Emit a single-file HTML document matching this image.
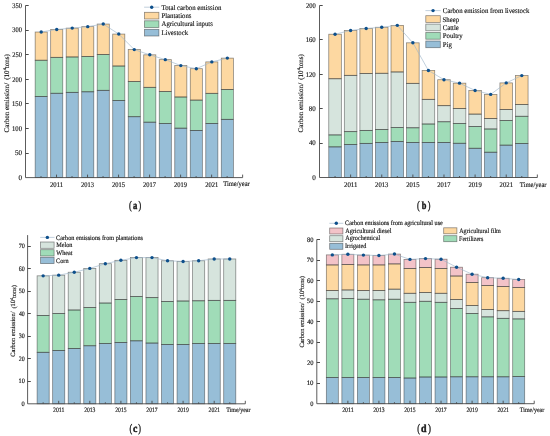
<!DOCTYPE html>
<html><head><meta charset="utf-8"><title>Carbon emission charts</title>
<style>
html,body{margin:0;padding:0;background:#fff;}
body{width:550px;height:436px;overflow:hidden;}
svg{display:block;font-family:"Liberation Serif", serif;will-change:transform;text-rendering:geometricPrecision;}
svg text{fill:#111;stroke:#1a1a1a;stroke-width:0.15px;}
</style></head><body>
<svg width="550" height="436" viewBox="0 0 550 436">
<rect width="550" height="436" fill="#fff"/>
<g>
<rect x="35.16" y="96.47" width="12.1" height="81.13" fill="#97bed7"/>
<rect x="35.16" y="60.23" width="12.1" height="36.24" fill="#a0dcb8"/>
<rect x="35.16" y="32.01" width="12.1" height="28.22" fill="#fdd8a1"/>
<rect x="50.67" y="93.27" width="12.1" height="84.33" fill="#97bed7"/>
<rect x="50.67" y="57.33" width="12.1" height="35.94" fill="#a0dcb8"/>
<rect x="50.67" y="29.45" width="12.1" height="27.88" fill="#fdd8a1"/>
<rect x="66.18" y="92.34" width="12.1" height="85.26" fill="#97bed7"/>
<rect x="66.18" y="56.99" width="12.1" height="35.35" fill="#a0dcb8"/>
<rect x="66.18" y="28.12" width="12.1" height="28.86" fill="#fdd8a1"/>
<rect x="81.69" y="91.8" width="12.1" height="85.8" fill="#97bed7"/>
<rect x="81.69" y="56.4" width="12.1" height="35.4" fill="#a0dcb8"/>
<rect x="81.69" y="26.65" width="12.1" height="29.75" fill="#fdd8a1"/>
<rect x="97.2" y="90.32" width="12.1" height="87.28" fill="#97bed7"/>
<rect x="97.2" y="54.48" width="12.1" height="35.84" fill="#a0dcb8"/>
<rect x="97.2" y="24.04" width="12.1" height="30.44" fill="#fdd8a1"/>
<rect x="112.71" y="100.6" width="12.1" height="77" fill="#97bed7"/>
<rect x="112.71" y="66.03" width="12.1" height="34.57" fill="#a0dcb8"/>
<rect x="112.71" y="34.07" width="12.1" height="31.96" fill="#fdd8a1"/>
<rect x="128.22" y="116.73" width="12.1" height="60.87" fill="#97bed7"/>
<rect x="128.22" y="81.62" width="12.1" height="35.11" fill="#a0dcb8"/>
<rect x="128.22" y="49.61" width="12.1" height="32.01" fill="#fdd8a1"/>
<rect x="143.73" y="122.19" width="12.1" height="55.41" fill="#97bed7"/>
<rect x="143.73" y="87.32" width="12.1" height="34.86" fill="#a0dcb8"/>
<rect x="143.73" y="54.82" width="12.1" height="32.5" fill="#fdd8a1"/>
<rect x="159.24" y="123.56" width="12.1" height="54.04" fill="#97bed7"/>
<rect x="159.24" y="91.5" width="12.1" height="32.06" fill="#a0dcb8"/>
<rect x="159.24" y="59.64" width="12.1" height="31.86" fill="#fdd8a1"/>
<rect x="174.75" y="128.18" width="12.1" height="49.42" fill="#97bed7"/>
<rect x="174.75" y="97.01" width="12.1" height="31.17" fill="#a0dcb8"/>
<rect x="174.75" y="65.59" width="12.1" height="31.42" fill="#fdd8a1"/>
<rect x="190.26" y="130.4" width="12.1" height="47.2" fill="#97bed7"/>
<rect x="190.26" y="100.11" width="12.1" height="30.29" fill="#a0dcb8"/>
<rect x="190.26" y="68.69" width="12.1" height="31.42" fill="#fdd8a1"/>
<rect x="205.77" y="123.41" width="12.1" height="54.19" fill="#97bed7"/>
<rect x="205.77" y="93.32" width="12.1" height="30.09" fill="#a0dcb8"/>
<rect x="205.77" y="61.9" width="12.1" height="31.42" fill="#fdd8a1"/>
<rect x="221.28" y="119.33" width="12.1" height="58.27" fill="#97bed7"/>
<rect x="221.28" y="89.39" width="12.1" height="29.94" fill="#a0dcb8"/>
<rect x="221.28" y="58.12" width="12.1" height="31.27" fill="#fdd8a1"/>
<rect x="35.16" y="96.47" width="12.1" height="81.13" fill="none" stroke="rgba(40,40,40,0.55)" stroke-width="0.75"/>
<rect x="35.16" y="60.23" width="12.1" height="36.24" fill="none" stroke="rgba(40,40,40,0.55)" stroke-width="0.75"/>
<rect x="35.16" y="32.01" width="12.1" height="28.22" fill="none" stroke="rgba(40,40,40,0.55)" stroke-width="0.75"/>
<rect x="50.67" y="93.27" width="12.1" height="84.33" fill="none" stroke="rgba(40,40,40,0.55)" stroke-width="0.75"/>
<rect x="50.67" y="57.33" width="12.1" height="35.94" fill="none" stroke="rgba(40,40,40,0.55)" stroke-width="0.75"/>
<rect x="50.67" y="29.45" width="12.1" height="27.88" fill="none" stroke="rgba(40,40,40,0.55)" stroke-width="0.75"/>
<rect x="66.18" y="92.34" width="12.1" height="85.26" fill="none" stroke="rgba(40,40,40,0.55)" stroke-width="0.75"/>
<rect x="66.18" y="56.99" width="12.1" height="35.35" fill="none" stroke="rgba(40,40,40,0.55)" stroke-width="0.75"/>
<rect x="66.18" y="28.12" width="12.1" height="28.86" fill="none" stroke="rgba(40,40,40,0.55)" stroke-width="0.75"/>
<rect x="81.69" y="91.8" width="12.1" height="85.8" fill="none" stroke="rgba(40,40,40,0.55)" stroke-width="0.75"/>
<rect x="81.69" y="56.4" width="12.1" height="35.4" fill="none" stroke="rgba(40,40,40,0.55)" stroke-width="0.75"/>
<rect x="81.69" y="26.65" width="12.1" height="29.75" fill="none" stroke="rgba(40,40,40,0.55)" stroke-width="0.75"/>
<rect x="97.2" y="90.32" width="12.1" height="87.28" fill="none" stroke="rgba(40,40,40,0.55)" stroke-width="0.75"/>
<rect x="97.2" y="54.48" width="12.1" height="35.84" fill="none" stroke="rgba(40,40,40,0.55)" stroke-width="0.75"/>
<rect x="97.2" y="24.04" width="12.1" height="30.44" fill="none" stroke="rgba(40,40,40,0.55)" stroke-width="0.75"/>
<rect x="112.71" y="100.6" width="12.1" height="77" fill="none" stroke="rgba(40,40,40,0.55)" stroke-width="0.75"/>
<rect x="112.71" y="66.03" width="12.1" height="34.57" fill="none" stroke="rgba(40,40,40,0.55)" stroke-width="0.75"/>
<rect x="112.71" y="34.07" width="12.1" height="31.96" fill="none" stroke="rgba(40,40,40,0.55)" stroke-width="0.75"/>
<rect x="128.22" y="116.73" width="12.1" height="60.87" fill="none" stroke="rgba(40,40,40,0.55)" stroke-width="0.75"/>
<rect x="128.22" y="81.62" width="12.1" height="35.11" fill="none" stroke="rgba(40,40,40,0.55)" stroke-width="0.75"/>
<rect x="128.22" y="49.61" width="12.1" height="32.01" fill="none" stroke="rgba(40,40,40,0.55)" stroke-width="0.75"/>
<rect x="143.73" y="122.19" width="12.1" height="55.41" fill="none" stroke="rgba(40,40,40,0.55)" stroke-width="0.75"/>
<rect x="143.73" y="87.32" width="12.1" height="34.86" fill="none" stroke="rgba(40,40,40,0.55)" stroke-width="0.75"/>
<rect x="143.73" y="54.82" width="12.1" height="32.5" fill="none" stroke="rgba(40,40,40,0.55)" stroke-width="0.75"/>
<rect x="159.24" y="123.56" width="12.1" height="54.04" fill="none" stroke="rgba(40,40,40,0.55)" stroke-width="0.75"/>
<rect x="159.24" y="91.5" width="12.1" height="32.06" fill="none" stroke="rgba(40,40,40,0.55)" stroke-width="0.75"/>
<rect x="159.24" y="59.64" width="12.1" height="31.86" fill="none" stroke="rgba(40,40,40,0.55)" stroke-width="0.75"/>
<rect x="174.75" y="128.18" width="12.1" height="49.42" fill="none" stroke="rgba(40,40,40,0.55)" stroke-width="0.75"/>
<rect x="174.75" y="97.01" width="12.1" height="31.17" fill="none" stroke="rgba(40,40,40,0.55)" stroke-width="0.75"/>
<rect x="174.75" y="65.59" width="12.1" height="31.42" fill="none" stroke="rgba(40,40,40,0.55)" stroke-width="0.75"/>
<rect x="190.26" y="130.4" width="12.1" height="47.2" fill="none" stroke="rgba(40,40,40,0.55)" stroke-width="0.75"/>
<rect x="190.26" y="100.11" width="12.1" height="30.29" fill="none" stroke="rgba(40,40,40,0.55)" stroke-width="0.75"/>
<rect x="190.26" y="68.69" width="12.1" height="31.42" fill="none" stroke="rgba(40,40,40,0.55)" stroke-width="0.75"/>
<rect x="205.77" y="123.41" width="12.1" height="54.19" fill="none" stroke="rgba(40,40,40,0.55)" stroke-width="0.75"/>
<rect x="205.77" y="93.32" width="12.1" height="30.09" fill="none" stroke="rgba(40,40,40,0.55)" stroke-width="0.75"/>
<rect x="205.77" y="61.9" width="12.1" height="31.42" fill="none" stroke="rgba(40,40,40,0.55)" stroke-width="0.75"/>
<rect x="221.28" y="119.33" width="12.1" height="58.27" fill="none" stroke="rgba(40,40,40,0.55)" stroke-width="0.75"/>
<rect x="221.28" y="89.39" width="12.1" height="29.94" fill="none" stroke="rgba(40,40,40,0.55)" stroke-width="0.75"/>
<rect x="221.28" y="58.12" width="12.1" height="31.27" fill="none" stroke="rgba(40,40,40,0.55)" stroke-width="0.75"/>
<polyline points="41.21,32.01 56.72,29.45 72.23,28.12 87.74,26.65 103.25,24.04 118.76,34.07 134.27,49.61 149.78,54.82 165.29,59.64 180.8,65.59 196.31,68.69 211.82,61.9 227.33,58.12" fill="none" stroke="#9fb6ca" stroke-width="0.65"/>
<circle cx="41.21" cy="32.01" r="1.7" fill="#0d4f8b"/>
<circle cx="56.72" cy="29.45" r="1.7" fill="#0d4f8b"/>
<circle cx="72.23" cy="28.12" r="1.7" fill="#0d4f8b"/>
<circle cx="87.74" cy="26.65" r="1.7" fill="#0d4f8b"/>
<circle cx="103.25" cy="24.04" r="1.7" fill="#0d4f8b"/>
<circle cx="118.76" cy="34.07" r="1.7" fill="#0d4f8b"/>
<circle cx="134.27" cy="49.61" r="1.7" fill="#0d4f8b"/>
<circle cx="149.78" cy="54.82" r="1.7" fill="#0d4f8b"/>
<circle cx="165.29" cy="59.64" r="1.7" fill="#0d4f8b"/>
<circle cx="180.8" cy="65.59" r="1.7" fill="#0d4f8b"/>
<circle cx="196.31" cy="68.69" r="1.7" fill="#0d4f8b"/>
<circle cx="211.82" cy="61.9" r="1.7" fill="#0d4f8b"/>
<circle cx="227.33" cy="58.12" r="1.7" fill="#0d4f8b"/>
<path d="M25.5 5.5V177.6H242.64" fill="none" stroke="#4a4a4a" stroke-width="0.9"/>
<text x="18.48" y="179.9" font-size="7.2" textLength="3.54" lengthAdjust="spacingAndGlyphs">0</text>
<line x1="25.5" y1="153.5" x2="28.7" y2="153.5" stroke="#4a4a4a" stroke-width="1"/>
<text x="14.94" y="155.31" font-size="7.2" textLength="7.08" lengthAdjust="spacingAndGlyphs">50</text>
<line x1="25.5" y1="128.5" x2="28.7" y2="128.5" stroke="#4a4a4a" stroke-width="1"/>
<text x="12.07" y="130.73" font-size="7.2" textLength="9.93" lengthAdjust="spacingAndGlyphs">100</text>
<line x1="25.5" y1="103.5" x2="28.7" y2="103.5" stroke="#4a4a4a" stroke-width="1"/>
<text x="12.07" y="106.14" font-size="7.2" textLength="9.93" lengthAdjust="spacingAndGlyphs">150</text>
<line x1="25.5" y1="79.5" x2="28.7" y2="79.5" stroke="#4a4a4a" stroke-width="1"/>
<text x="12.37" y="81.56" font-size="7.2" textLength="9.63" lengthAdjust="spacingAndGlyphs">200</text>
<line x1="25.5" y1="54.5" x2="28.7" y2="54.5" stroke="#4a4a4a" stroke-width="1"/>
<text x="12.37" y="56.97" font-size="7.2" textLength="9.63" lengthAdjust="spacingAndGlyphs">250</text>
<line x1="25.5" y1="30.5" x2="28.7" y2="30.5" stroke="#4a4a4a" stroke-width="1"/>
<text x="12.34" y="32.39" font-size="7.2" textLength="9.65" lengthAdjust="spacingAndGlyphs">300</text>
<line x1="25.5" y1="5.5" x2="28.7" y2="5.5" stroke="#4a4a4a" stroke-width="1"/>
<text x="12.34" y="7.8" font-size="7.2" textLength="9.65" lengthAdjust="spacingAndGlyphs">350</text>
<line x1="41.01" y1="177.6" x2="41.01" y2="176.1" stroke="#4a4a4a" stroke-width="0.9"/>
<line x1="56.52" y1="177.6" x2="56.52" y2="174.6" stroke="#4a4a4a" stroke-width="0.9"/>
<line x1="72.03" y1="177.6" x2="72.03" y2="176.1" stroke="#4a4a4a" stroke-width="0.9"/>
<line x1="87.54" y1="177.6" x2="87.54" y2="174.6" stroke="#4a4a4a" stroke-width="0.9"/>
<line x1="103.05" y1="177.6" x2="103.05" y2="176.1" stroke="#4a4a4a" stroke-width="0.9"/>
<line x1="118.56" y1="177.6" x2="118.56" y2="174.6" stroke="#4a4a4a" stroke-width="0.9"/>
<line x1="134.07" y1="177.6" x2="134.07" y2="176.1" stroke="#4a4a4a" stroke-width="0.9"/>
<line x1="149.58" y1="177.6" x2="149.58" y2="174.6" stroke="#4a4a4a" stroke-width="0.9"/>
<line x1="165.09" y1="177.6" x2="165.09" y2="176.1" stroke="#4a4a4a" stroke-width="0.9"/>
<line x1="180.6" y1="177.6" x2="180.6" y2="174.6" stroke="#4a4a4a" stroke-width="0.9"/>
<line x1="196.11" y1="177.6" x2="196.11" y2="176.1" stroke="#4a4a4a" stroke-width="0.9"/>
<line x1="211.62" y1="177.6" x2="211.62" y2="174.6" stroke="#4a4a4a" stroke-width="0.9"/>
<line x1="227.13" y1="177.6" x2="227.13" y2="176.1" stroke="#4a4a4a" stroke-width="0.9"/>
<line x1="242.64" y1="177.6" x2="242.64" y2="174.6" stroke="#4a4a4a" stroke-width="0.9"/>
<text x="50.03" y="186.6" font-size="7.2" textLength="13.08" lengthAdjust="spacingAndGlyphs">2011</text>
<text x="81.06" y="186.6" font-size="7.2" textLength="12.94" lengthAdjust="spacingAndGlyphs">2013</text>
<text x="112.08" y="186.6" font-size="7.2" textLength="12.94" lengthAdjust="spacingAndGlyphs">2015</text>
<text x="143.1" y="186.6" font-size="7.2" textLength="12.87" lengthAdjust="spacingAndGlyphs">2017</text>
<text x="174.12" y="186.6" font-size="7.2" textLength="12.95" lengthAdjust="spacingAndGlyphs">2019</text>
<text x="205.13" y="186.6" font-size="7.2" textLength="13.08" lengthAdjust="spacingAndGlyphs">2021</text>
<text x="223.23" y="186" font-size="7.2" textLength="26.57" lengthAdjust="spacingAndGlyphs">Time/year</text>
<text transform="translate(6.6 93.25) rotate(-90)" font-size="7.05" text-anchor="middle" dominant-baseline="central">Carbon emission/<tspan dx="3.17">(</tspan>10<tspan font-size="4.37" dy="-2.68">4</tspan><tspan dy="2.68">tons)</tspan></text>
<line x1="144.1" y1="7.2" x2="159.3" y2="7.2" stroke="#9fb6ca" stroke-width="0.65"/>
<circle cx="151.7" cy="7.2" r="1.7" fill="#0d4f8b"/>
<text x="161.53" y="9.6" font-size="7.2" textLength="59.92" lengthAdjust="spacingAndGlyphs">Total carbon emission</text>
<rect x="144.5" y="12.3" width="14.4" height="6.7" fill="#fdd8a1" stroke="rgba(40,40,40,0.55)" stroke-width="0.75"/>
<text x="161.46" y="17.6" font-size="7.2" textLength="30.02" lengthAdjust="spacingAndGlyphs">Plantations</text>
<rect x="144.5" y="20.8" width="14.4" height="6.7" fill="#a0dcb8" stroke="rgba(40,40,40,0.55)" stroke-width="0.75"/>
<text x="161.58" y="26.2" font-size="7.2" textLength="51.31" lengthAdjust="spacingAndGlyphs">Agricultural inputs</text>
<rect x="144.5" y="29.3" width="14.4" height="6.7" fill="#97bed7" stroke="rgba(40,40,40,0.55)" stroke-width="0.75"/>
<text x="161.46" y="34.7" font-size="7.2" textLength="26.64" lengthAdjust="spacingAndGlyphs">Livestock</text>
<text x="128.99" y="209.15" font-size="11.5" textLength="2.72" lengthAdjust="spacingAndGlyphs" style="stroke-width:0.35px">(</text>
<text x="132.97" y="208.9" font-size="11" textLength="4.31" lengthAdjust="spacingAndGlyphs" font-weight="bold" style="stroke-width:0.45px">a</text>
<text x="138.49" y="209.15" font-size="11.5" textLength="2.72" lengthAdjust="spacingAndGlyphs" style="stroke-width:0.35px">)</text>
<rect x="328.76" y="146.88" width="12.6" height="30.62" fill="#97bed7"/>
<rect x="328.76" y="134.93" width="12.6" height="11.95" fill="#a0dcb8"/>
<rect x="328.76" y="78.77" width="12.6" height="56.16" fill="#d6e4dd"/>
<rect x="328.76" y="34.22" width="12.6" height="44.55" fill="#fdd8a1"/>
<rect x="344.32" y="144.56" width="12.6" height="32.94" fill="#97bed7"/>
<rect x="344.32" y="131.66" width="12.6" height="12.9" fill="#a0dcb8"/>
<rect x="344.32" y="75.33" width="12.6" height="56.33" fill="#d6e4dd"/>
<rect x="344.32" y="30.44" width="12.6" height="44.89" fill="#fdd8a1"/>
<rect x="359.88" y="143.36" width="12.6" height="34.14" fill="#97bed7"/>
<rect x="359.88" y="130.37" width="12.6" height="12.99" fill="#a0dcb8"/>
<rect x="359.88" y="73.44" width="12.6" height="56.93" fill="#d6e4dd"/>
<rect x="359.88" y="28.46" width="12.6" height="44.98" fill="#fdd8a1"/>
<rect x="375.44" y="142.5" width="12.6" height="35" fill="#97bed7"/>
<rect x="375.44" y="129.51" width="12.6" height="12.99" fill="#a0dcb8"/>
<rect x="375.44" y="73.27" width="12.6" height="56.24" fill="#d6e4dd"/>
<rect x="375.44" y="27.26" width="12.6" height="46.01" fill="#fdd8a1"/>
<rect x="391" y="141.47" width="12.6" height="36.03" fill="#97bed7"/>
<rect x="391" y="127.62" width="12.6" height="13.85" fill="#a0dcb8"/>
<rect x="391" y="71.98" width="12.6" height="55.64" fill="#d6e4dd"/>
<rect x="391" y="25.37" width="12.6" height="46.61" fill="#fdd8a1"/>
<rect x="406.56" y="142.41" width="12.6" height="35.09" fill="#97bed7"/>
<rect x="406.56" y="127.79" width="12.6" height="14.62" fill="#a0dcb8"/>
<rect x="406.56" y="83.33" width="12.6" height="44.46" fill="#d6e4dd"/>
<rect x="406.56" y="42.82" width="12.6" height="40.51" fill="#fdd8a1"/>
<rect x="422.12" y="142.41" width="12.6" height="35.09" fill="#97bed7"/>
<rect x="422.12" y="124.01" width="12.6" height="18.4" fill="#a0dcb8"/>
<rect x="422.12" y="99.33" width="12.6" height="24.68" fill="#d6e4dd"/>
<rect x="422.12" y="70.43" width="12.6" height="28.9" fill="#fdd8a1"/>
<rect x="437.68" y="142.41" width="12.6" height="35.09" fill="#97bed7"/>
<rect x="437.68" y="121.77" width="12.6" height="20.64" fill="#a0dcb8"/>
<rect x="437.68" y="105.69" width="12.6" height="16.08" fill="#d6e4dd"/>
<rect x="437.68" y="79.72" width="12.6" height="25.97" fill="#fdd8a1"/>
<rect x="453.24" y="143.27" width="12.6" height="34.23" fill="#97bed7"/>
<rect x="453.24" y="123.49" width="12.6" height="19.78" fill="#a0dcb8"/>
<rect x="453.24" y="108.44" width="12.6" height="15.05" fill="#d6e4dd"/>
<rect x="453.24" y="83.16" width="12.6" height="25.28" fill="#fdd8a1"/>
<rect x="468.8" y="148.26" width="12.6" height="29.24" fill="#97bed7"/>
<rect x="468.8" y="126.5" width="12.6" height="21.76" fill="#a0dcb8"/>
<rect x="468.8" y="114.12" width="12.6" height="12.38" fill="#d6e4dd"/>
<rect x="468.8" y="90.47" width="12.6" height="23.65" fill="#fdd8a1"/>
<rect x="484.36" y="152.22" width="12.6" height="25.28" fill="#97bed7"/>
<rect x="484.36" y="129" width="12.6" height="23.22" fill="#a0dcb8"/>
<rect x="484.36" y="118.5" width="12.6" height="10.49" fill="#d6e4dd"/>
<rect x="484.36" y="94.42" width="12.6" height="24.08" fill="#fdd8a1"/>
<rect x="499.92" y="145.16" width="12.6" height="32.34" fill="#97bed7"/>
<rect x="499.92" y="120.48" width="12.6" height="24.68" fill="#a0dcb8"/>
<rect x="499.92" y="109.47" width="12.6" height="11.01" fill="#d6e4dd"/>
<rect x="499.92" y="82.9" width="12.6" height="26.57" fill="#fdd8a1"/>
<rect x="515.48" y="143.53" width="12.6" height="33.97" fill="#97bed7"/>
<rect x="515.48" y="116.27" width="12.6" height="27.26" fill="#a0dcb8"/>
<rect x="515.48" y="104.49" width="12.6" height="11.78" fill="#d6e4dd"/>
<rect x="515.48" y="75.59" width="12.6" height="28.9" fill="#fdd8a1"/>
<rect x="328.76" y="146.88" width="12.6" height="30.62" fill="none" stroke="rgba(40,40,40,0.55)" stroke-width="0.75"/>
<rect x="328.76" y="134.93" width="12.6" height="11.95" fill="none" stroke="rgba(40,40,40,0.55)" stroke-width="0.75"/>
<rect x="328.76" y="78.77" width="12.6" height="56.16" fill="none" stroke="rgba(40,40,40,0.55)" stroke-width="0.75"/>
<rect x="328.76" y="34.22" width="12.6" height="44.55" fill="none" stroke="rgba(40,40,40,0.55)" stroke-width="0.75"/>
<rect x="344.32" y="144.56" width="12.6" height="32.94" fill="none" stroke="rgba(40,40,40,0.55)" stroke-width="0.75"/>
<rect x="344.32" y="131.66" width="12.6" height="12.9" fill="none" stroke="rgba(40,40,40,0.55)" stroke-width="0.75"/>
<rect x="344.32" y="75.33" width="12.6" height="56.33" fill="none" stroke="rgba(40,40,40,0.55)" stroke-width="0.75"/>
<rect x="344.32" y="30.44" width="12.6" height="44.89" fill="none" stroke="rgba(40,40,40,0.55)" stroke-width="0.75"/>
<rect x="359.88" y="143.36" width="12.6" height="34.14" fill="none" stroke="rgba(40,40,40,0.55)" stroke-width="0.75"/>
<rect x="359.88" y="130.37" width="12.6" height="12.99" fill="none" stroke="rgba(40,40,40,0.55)" stroke-width="0.75"/>
<rect x="359.88" y="73.44" width="12.6" height="56.93" fill="none" stroke="rgba(40,40,40,0.55)" stroke-width="0.75"/>
<rect x="359.88" y="28.46" width="12.6" height="44.98" fill="none" stroke="rgba(40,40,40,0.55)" stroke-width="0.75"/>
<rect x="375.44" y="142.5" width="12.6" height="35" fill="none" stroke="rgba(40,40,40,0.55)" stroke-width="0.75"/>
<rect x="375.44" y="129.51" width="12.6" height="12.99" fill="none" stroke="rgba(40,40,40,0.55)" stroke-width="0.75"/>
<rect x="375.44" y="73.27" width="12.6" height="56.24" fill="none" stroke="rgba(40,40,40,0.55)" stroke-width="0.75"/>
<rect x="375.44" y="27.26" width="12.6" height="46.01" fill="none" stroke="rgba(40,40,40,0.55)" stroke-width="0.75"/>
<rect x="391" y="141.47" width="12.6" height="36.03" fill="none" stroke="rgba(40,40,40,0.55)" stroke-width="0.75"/>
<rect x="391" y="127.62" width="12.6" height="13.85" fill="none" stroke="rgba(40,40,40,0.55)" stroke-width="0.75"/>
<rect x="391" y="71.98" width="12.6" height="55.64" fill="none" stroke="rgba(40,40,40,0.55)" stroke-width="0.75"/>
<rect x="391" y="25.37" width="12.6" height="46.61" fill="none" stroke="rgba(40,40,40,0.55)" stroke-width="0.75"/>
<rect x="406.56" y="142.41" width="12.6" height="35.09" fill="none" stroke="rgba(40,40,40,0.55)" stroke-width="0.75"/>
<rect x="406.56" y="127.79" width="12.6" height="14.62" fill="none" stroke="rgba(40,40,40,0.55)" stroke-width="0.75"/>
<rect x="406.56" y="83.33" width="12.6" height="44.46" fill="none" stroke="rgba(40,40,40,0.55)" stroke-width="0.75"/>
<rect x="406.56" y="42.82" width="12.6" height="40.51" fill="none" stroke="rgba(40,40,40,0.55)" stroke-width="0.75"/>
<rect x="422.12" y="142.41" width="12.6" height="35.09" fill="none" stroke="rgba(40,40,40,0.55)" stroke-width="0.75"/>
<rect x="422.12" y="124.01" width="12.6" height="18.4" fill="none" stroke="rgba(40,40,40,0.55)" stroke-width="0.75"/>
<rect x="422.12" y="99.33" width="12.6" height="24.68" fill="none" stroke="rgba(40,40,40,0.55)" stroke-width="0.75"/>
<rect x="422.12" y="70.43" width="12.6" height="28.9" fill="none" stroke="rgba(40,40,40,0.55)" stroke-width="0.75"/>
<rect x="437.68" y="142.41" width="12.6" height="35.09" fill="none" stroke="rgba(40,40,40,0.55)" stroke-width="0.75"/>
<rect x="437.68" y="121.77" width="12.6" height="20.64" fill="none" stroke="rgba(40,40,40,0.55)" stroke-width="0.75"/>
<rect x="437.68" y="105.69" width="12.6" height="16.08" fill="none" stroke="rgba(40,40,40,0.55)" stroke-width="0.75"/>
<rect x="437.68" y="79.72" width="12.6" height="25.97" fill="none" stroke="rgba(40,40,40,0.55)" stroke-width="0.75"/>
<rect x="453.24" y="143.27" width="12.6" height="34.23" fill="none" stroke="rgba(40,40,40,0.55)" stroke-width="0.75"/>
<rect x="453.24" y="123.49" width="12.6" height="19.78" fill="none" stroke="rgba(40,40,40,0.55)" stroke-width="0.75"/>
<rect x="453.24" y="108.44" width="12.6" height="15.05" fill="none" stroke="rgba(40,40,40,0.55)" stroke-width="0.75"/>
<rect x="453.24" y="83.16" width="12.6" height="25.28" fill="none" stroke="rgba(40,40,40,0.55)" stroke-width="0.75"/>
<rect x="468.8" y="148.26" width="12.6" height="29.24" fill="none" stroke="rgba(40,40,40,0.55)" stroke-width="0.75"/>
<rect x="468.8" y="126.5" width="12.6" height="21.76" fill="none" stroke="rgba(40,40,40,0.55)" stroke-width="0.75"/>
<rect x="468.8" y="114.12" width="12.6" height="12.38" fill="none" stroke="rgba(40,40,40,0.55)" stroke-width="0.75"/>
<rect x="468.8" y="90.47" width="12.6" height="23.65" fill="none" stroke="rgba(40,40,40,0.55)" stroke-width="0.75"/>
<rect x="484.36" y="152.22" width="12.6" height="25.28" fill="none" stroke="rgba(40,40,40,0.55)" stroke-width="0.75"/>
<rect x="484.36" y="129" width="12.6" height="23.22" fill="none" stroke="rgba(40,40,40,0.55)" stroke-width="0.75"/>
<rect x="484.36" y="118.5" width="12.6" height="10.49" fill="none" stroke="rgba(40,40,40,0.55)" stroke-width="0.75"/>
<rect x="484.36" y="94.42" width="12.6" height="24.08" fill="none" stroke="rgba(40,40,40,0.55)" stroke-width="0.75"/>
<rect x="499.92" y="145.16" width="12.6" height="32.34" fill="none" stroke="rgba(40,40,40,0.55)" stroke-width="0.75"/>
<rect x="499.92" y="120.48" width="12.6" height="24.68" fill="none" stroke="rgba(40,40,40,0.55)" stroke-width="0.75"/>
<rect x="499.92" y="109.47" width="12.6" height="11.01" fill="none" stroke="rgba(40,40,40,0.55)" stroke-width="0.75"/>
<rect x="499.92" y="82.9" width="12.6" height="26.57" fill="none" stroke="rgba(40,40,40,0.55)" stroke-width="0.75"/>
<rect x="515.48" y="143.53" width="12.6" height="33.97" fill="none" stroke="rgba(40,40,40,0.55)" stroke-width="0.75"/>
<rect x="515.48" y="116.27" width="12.6" height="27.26" fill="none" stroke="rgba(40,40,40,0.55)" stroke-width="0.75"/>
<rect x="515.48" y="104.49" width="12.6" height="11.78" fill="none" stroke="rgba(40,40,40,0.55)" stroke-width="0.75"/>
<rect x="515.48" y="75.59" width="12.6" height="28.9" fill="none" stroke="rgba(40,40,40,0.55)" stroke-width="0.75"/>
<polyline points="335.06,34.22 350.62,30.44 366.18,28.46 381.74,27.26 397.3,25.37 412.86,42.82 428.42,70.43 443.98,79.72 459.54,83.16 475.1,90.47 490.66,94.42 506.22,82.9 521.78,75.59" fill="none" stroke="#9fb6ca" stroke-width="0.65"/>
<circle cx="335.06" cy="34.22" r="1.7" fill="#0d4f8b"/>
<circle cx="350.62" cy="30.44" r="1.7" fill="#0d4f8b"/>
<circle cx="366.18" cy="28.46" r="1.7" fill="#0d4f8b"/>
<circle cx="381.74" cy="27.26" r="1.7" fill="#0d4f8b"/>
<circle cx="397.3" cy="25.37" r="1.7" fill="#0d4f8b"/>
<circle cx="412.86" cy="42.82" r="1.7" fill="#0d4f8b"/>
<circle cx="428.42" cy="70.43" r="1.7" fill="#0d4f8b"/>
<circle cx="443.98" cy="79.72" r="1.7" fill="#0d4f8b"/>
<circle cx="459.54" cy="83.16" r="1.7" fill="#0d4f8b"/>
<circle cx="475.1" cy="90.47" r="1.7" fill="#0d4f8b"/>
<circle cx="490.66" cy="94.42" r="1.7" fill="#0d4f8b"/>
<circle cx="506.22" cy="82.9" r="1.7" fill="#0d4f8b"/>
<circle cx="521.78" cy="75.59" r="1.7" fill="#0d4f8b"/>
<path d="M319.5 5.5V177.5H537.34" fill="none" stroke="#4a4a4a" stroke-width="0.9"/>
<text x="312.18" y="179.8" font-size="7.2" textLength="3.54" lengthAdjust="spacingAndGlyphs">0</text>
<line x1="319.5" y1="143.5" x2="322.7" y2="143.5" stroke="#4a4a4a" stroke-width="1"/>
<text x="308.92" y="145.4" font-size="7.2" textLength="6.79" lengthAdjust="spacingAndGlyphs">40</text>
<line x1="319.5" y1="108.5" x2="322.7" y2="108.5" stroke="#4a4a4a" stroke-width="1"/>
<text x="308.79" y="111" font-size="7.2" textLength="6.93" lengthAdjust="spacingAndGlyphs">80</text>
<line x1="319.5" y1="74.5" x2="322.7" y2="74.5" stroke="#4a4a4a" stroke-width="1"/>
<text x="305.66" y="76.6" font-size="7.2" textLength="10.04" lengthAdjust="spacingAndGlyphs">120</text>
<line x1="319.5" y1="39.5" x2="322.7" y2="39.5" stroke="#4a4a4a" stroke-width="1"/>
<text x="305.66" y="42.2" font-size="7.2" textLength="10.04" lengthAdjust="spacingAndGlyphs">160</text>
<line x1="319.5" y1="5.5" x2="322.7" y2="5.5" stroke="#4a4a4a" stroke-width="1"/>
<text x="305.96" y="7.8" font-size="7.2" textLength="9.73" lengthAdjust="spacingAndGlyphs">200</text>
<line x1="335.06" y1="177.5" x2="335.06" y2="176" stroke="#4a4a4a" stroke-width="0.9"/>
<line x1="350.62" y1="177.5" x2="350.62" y2="174.5" stroke="#4a4a4a" stroke-width="0.9"/>
<line x1="366.18" y1="177.5" x2="366.18" y2="176" stroke="#4a4a4a" stroke-width="0.9"/>
<line x1="381.74" y1="177.5" x2="381.74" y2="174.5" stroke="#4a4a4a" stroke-width="0.9"/>
<line x1="397.3" y1="177.5" x2="397.3" y2="176" stroke="#4a4a4a" stroke-width="0.9"/>
<line x1="412.86" y1="177.5" x2="412.86" y2="174.5" stroke="#4a4a4a" stroke-width="0.9"/>
<line x1="428.42" y1="177.5" x2="428.42" y2="176" stroke="#4a4a4a" stroke-width="0.9"/>
<line x1="443.98" y1="177.5" x2="443.98" y2="174.5" stroke="#4a4a4a" stroke-width="0.9"/>
<line x1="459.54" y1="177.5" x2="459.54" y2="176" stroke="#4a4a4a" stroke-width="0.9"/>
<line x1="475.1" y1="177.5" x2="475.1" y2="174.5" stroke="#4a4a4a" stroke-width="0.9"/>
<line x1="490.66" y1="177.5" x2="490.66" y2="176" stroke="#4a4a4a" stroke-width="0.9"/>
<line x1="506.22" y1="177.5" x2="506.22" y2="174.5" stroke="#4a4a4a" stroke-width="0.9"/>
<line x1="521.78" y1="177.5" x2="521.78" y2="176" stroke="#4a4a4a" stroke-width="0.9"/>
<line x1="537.34" y1="177.5" x2="537.34" y2="174.5" stroke="#4a4a4a" stroke-width="0.9"/>
<text x="343.98" y="186.7" font-size="7.2" textLength="13.4" lengthAdjust="spacingAndGlyphs">2011</text>
<text x="375.1" y="186.7" font-size="7.2" textLength="13.25" lengthAdjust="spacingAndGlyphs">2013</text>
<text x="406.22" y="186.7" font-size="7.2" textLength="13.25" lengthAdjust="spacingAndGlyphs">2015</text>
<text x="437.34" y="186.7" font-size="7.2" textLength="13.18" lengthAdjust="spacingAndGlyphs">2017</text>
<text x="468.46" y="186.7" font-size="7.2" textLength="13.26" lengthAdjust="spacingAndGlyphs">2019</text>
<text x="499.58" y="186.7" font-size="7.2" textLength="13.4" lengthAdjust="spacingAndGlyphs">2021</text>
<text x="519.83" y="186.7" font-size="7.2" textLength="26.67" lengthAdjust="spacingAndGlyphs">Time/year</text>
<text transform="translate(300.6 93.25) rotate(-90)" font-size="7.05" text-anchor="middle" dominant-baseline="central">Carbon emission/<tspan dx="3.17">(</tspan>10<tspan font-size="4.37" dy="-2.68">4</tspan><tspan dy="2.68">tons)</tspan></text>
<line x1="425.4" y1="10.6" x2="440.7" y2="10.6" stroke="#9fb6ca" stroke-width="0.65"/>
<circle cx="433.05" cy="10.6" r="1.7" fill="#0d4f8b"/>
<text x="442.67" y="12.8" font-size="7.2" textLength="86.68" lengthAdjust="spacingAndGlyphs">Carbon emission from livestock</text>
<rect x="425.8" y="15.7" width="14.5" height="6.7" fill="#fdd8a1" stroke="rgba(40,40,40,0.55)" stroke-width="0.75"/>
<text x="442.5" y="21.6" font-size="7.2" textLength="16.59" lengthAdjust="spacingAndGlyphs">Sheep</text>
<rect x="425.8" y="24.1" width="14.5" height="6.7" fill="#d6e4dd" stroke="rgba(40,40,40,0.55)" stroke-width="0.75"/>
<text x="442.67" y="29.9" font-size="7.2" textLength="16.22" lengthAdjust="spacingAndGlyphs">Cattle</text>
<rect x="425.8" y="32.5" width="14.5" height="6.7" fill="#a0dcb8" stroke="rgba(40,40,40,0.55)" stroke-width="0.75"/>
<text x="442.75" y="38.2" font-size="7.2" textLength="20" lengthAdjust="spacingAndGlyphs">Poultry</text>
<rect x="425.8" y="41" width="14.5" height="6.7" fill="#97bed7" stroke="rgba(40,40,40,0.55)" stroke-width="0.75"/>
<text x="442.75" y="46.5" font-size="7.2" textLength="9.06" lengthAdjust="spacingAndGlyphs">Pig</text>
<text x="417.09" y="209.15" font-size="11.5" textLength="2.72" lengthAdjust="spacingAndGlyphs" style="stroke-width:0.35px">(</text>
<text x="421.84" y="208.9" font-size="11" textLength="4.64" lengthAdjust="spacingAndGlyphs" font-weight="bold" style="stroke-width:0.45px">b</text>
<text x="427.79" y="209.15" font-size="11.5" textLength="2.72" lengthAdjust="spacingAndGlyphs" style="stroke-width:0.35px">)</text>
<rect x="37.1" y="352.3" width="12.1" height="51.5" fill="#97bed7"/>
<rect x="37.1" y="315.41" width="12.1" height="36.88" fill="#a0dcb8"/>
<rect x="37.1" y="275.83" width="12.1" height="39.58" fill="#d6e4dd"/>
<rect x="52.65" y="350.5" width="12.1" height="53.3" fill="#97bed7"/>
<rect x="52.65" y="313.62" width="12.1" height="36.88" fill="#a0dcb8"/>
<rect x="52.65" y="275.16" width="12.1" height="38.46" fill="#d6e4dd"/>
<rect x="68.2" y="348.47" width="12.1" height="55.33" fill="#97bed7"/>
<rect x="68.2" y="310.02" width="12.1" height="38.46" fill="#a0dcb8"/>
<rect x="68.2" y="272.23" width="12.1" height="37.78" fill="#d6e4dd"/>
<rect x="83.75" y="345.78" width="12.1" height="58.02" fill="#97bed7"/>
<rect x="83.75" y="307.54" width="12.1" height="38.23" fill="#a0dcb8"/>
<rect x="83.75" y="268.41" width="12.1" height="39.13" fill="#d6e4dd"/>
<rect x="99.3" y="343.53" width="12.1" height="60.27" fill="#97bed7"/>
<rect x="99.3" y="303.04" width="12.1" height="40.48" fill="#a0dcb8"/>
<rect x="99.3" y="263.69" width="12.1" height="39.36" fill="#d6e4dd"/>
<rect x="114.85" y="342.4" width="12.1" height="61.4" fill="#97bed7"/>
<rect x="114.85" y="299.45" width="12.1" height="42.96" fill="#a0dcb8"/>
<rect x="114.85" y="260.31" width="12.1" height="39.13" fill="#d6e4dd"/>
<rect x="130.4" y="340.83" width="12.1" height="62.97" fill="#97bed7"/>
<rect x="130.4" y="296.52" width="12.1" height="44.31" fill="#a0dcb8"/>
<rect x="130.4" y="257.62" width="12.1" height="38.91" fill="#d6e4dd"/>
<rect x="145.95" y="343.08" width="12.1" height="60.72" fill="#97bed7"/>
<rect x="145.95" y="297.65" width="12.1" height="45.43" fill="#a0dcb8"/>
<rect x="145.95" y="257.62" width="12.1" height="40.03" fill="#d6e4dd"/>
<rect x="161.5" y="344.43" width="12.1" height="59.37" fill="#97bed7"/>
<rect x="161.5" y="301.47" width="12.1" height="42.96" fill="#a0dcb8"/>
<rect x="161.5" y="260.76" width="12.1" height="40.71" fill="#d6e4dd"/>
<rect x="177.05" y="344.43" width="12.1" height="59.37" fill="#97bed7"/>
<rect x="177.05" y="301.02" width="12.1" height="43.41" fill="#a0dcb8"/>
<rect x="177.05" y="261.44" width="12.1" height="39.58" fill="#d6e4dd"/>
<rect x="192.6" y="343.53" width="12.1" height="60.27" fill="#97bed7"/>
<rect x="192.6" y="300.8" width="12.1" height="42.73" fill="#a0dcb8"/>
<rect x="192.6" y="260.76" width="12.1" height="40.03" fill="#d6e4dd"/>
<rect x="208.15" y="343.53" width="12.1" height="60.27" fill="#97bed7"/>
<rect x="208.15" y="300.35" width="12.1" height="43.18" fill="#a0dcb8"/>
<rect x="208.15" y="258.96" width="12.1" height="41.38" fill="#d6e4dd"/>
<rect x="223.7" y="343.53" width="12.1" height="60.27" fill="#97bed7"/>
<rect x="223.7" y="300.35" width="12.1" height="43.18" fill="#a0dcb8"/>
<rect x="223.7" y="258.96" width="12.1" height="41.38" fill="#d6e4dd"/>
<rect x="37.1" y="352.3" width="12.1" height="51.5" fill="none" stroke="rgba(40,40,40,0.55)" stroke-width="0.75"/>
<rect x="37.1" y="315.41" width="12.1" height="36.88" fill="none" stroke="rgba(40,40,40,0.55)" stroke-width="0.75"/>
<rect x="37.1" y="275.83" width="12.1" height="39.58" fill="none" stroke="rgba(40,40,40,0.55)" stroke-width="0.75"/>
<rect x="52.65" y="350.5" width="12.1" height="53.3" fill="none" stroke="rgba(40,40,40,0.55)" stroke-width="0.75"/>
<rect x="52.65" y="313.62" width="12.1" height="36.88" fill="none" stroke="rgba(40,40,40,0.55)" stroke-width="0.75"/>
<rect x="52.65" y="275.16" width="12.1" height="38.46" fill="none" stroke="rgba(40,40,40,0.55)" stroke-width="0.75"/>
<rect x="68.2" y="348.47" width="12.1" height="55.33" fill="none" stroke="rgba(40,40,40,0.55)" stroke-width="0.75"/>
<rect x="68.2" y="310.02" width="12.1" height="38.46" fill="none" stroke="rgba(40,40,40,0.55)" stroke-width="0.75"/>
<rect x="68.2" y="272.23" width="12.1" height="37.78" fill="none" stroke="rgba(40,40,40,0.55)" stroke-width="0.75"/>
<rect x="83.75" y="345.78" width="12.1" height="58.02" fill="none" stroke="rgba(40,40,40,0.55)" stroke-width="0.75"/>
<rect x="83.75" y="307.54" width="12.1" height="38.23" fill="none" stroke="rgba(40,40,40,0.55)" stroke-width="0.75"/>
<rect x="83.75" y="268.41" width="12.1" height="39.13" fill="none" stroke="rgba(40,40,40,0.55)" stroke-width="0.75"/>
<rect x="99.3" y="343.53" width="12.1" height="60.27" fill="none" stroke="rgba(40,40,40,0.55)" stroke-width="0.75"/>
<rect x="99.3" y="303.04" width="12.1" height="40.48" fill="none" stroke="rgba(40,40,40,0.55)" stroke-width="0.75"/>
<rect x="99.3" y="263.69" width="12.1" height="39.36" fill="none" stroke="rgba(40,40,40,0.55)" stroke-width="0.75"/>
<rect x="114.85" y="342.4" width="12.1" height="61.4" fill="none" stroke="rgba(40,40,40,0.55)" stroke-width="0.75"/>
<rect x="114.85" y="299.45" width="12.1" height="42.96" fill="none" stroke="rgba(40,40,40,0.55)" stroke-width="0.75"/>
<rect x="114.85" y="260.31" width="12.1" height="39.13" fill="none" stroke="rgba(40,40,40,0.55)" stroke-width="0.75"/>
<rect x="130.4" y="340.83" width="12.1" height="62.97" fill="none" stroke="rgba(40,40,40,0.55)" stroke-width="0.75"/>
<rect x="130.4" y="296.52" width="12.1" height="44.31" fill="none" stroke="rgba(40,40,40,0.55)" stroke-width="0.75"/>
<rect x="130.4" y="257.62" width="12.1" height="38.91" fill="none" stroke="rgba(40,40,40,0.55)" stroke-width="0.75"/>
<rect x="145.95" y="343.08" width="12.1" height="60.72" fill="none" stroke="rgba(40,40,40,0.55)" stroke-width="0.75"/>
<rect x="145.95" y="297.65" width="12.1" height="45.43" fill="none" stroke="rgba(40,40,40,0.55)" stroke-width="0.75"/>
<rect x="145.95" y="257.62" width="12.1" height="40.03" fill="none" stroke="rgba(40,40,40,0.55)" stroke-width="0.75"/>
<rect x="161.5" y="344.43" width="12.1" height="59.37" fill="none" stroke="rgba(40,40,40,0.55)" stroke-width="0.75"/>
<rect x="161.5" y="301.47" width="12.1" height="42.96" fill="none" stroke="rgba(40,40,40,0.55)" stroke-width="0.75"/>
<rect x="161.5" y="260.76" width="12.1" height="40.71" fill="none" stroke="rgba(40,40,40,0.55)" stroke-width="0.75"/>
<rect x="177.05" y="344.43" width="12.1" height="59.37" fill="none" stroke="rgba(40,40,40,0.55)" stroke-width="0.75"/>
<rect x="177.05" y="301.02" width="12.1" height="43.41" fill="none" stroke="rgba(40,40,40,0.55)" stroke-width="0.75"/>
<rect x="177.05" y="261.44" width="12.1" height="39.58" fill="none" stroke="rgba(40,40,40,0.55)" stroke-width="0.75"/>
<rect x="192.6" y="343.53" width="12.1" height="60.27" fill="none" stroke="rgba(40,40,40,0.55)" stroke-width="0.75"/>
<rect x="192.6" y="300.8" width="12.1" height="42.73" fill="none" stroke="rgba(40,40,40,0.55)" stroke-width="0.75"/>
<rect x="192.6" y="260.76" width="12.1" height="40.03" fill="none" stroke="rgba(40,40,40,0.55)" stroke-width="0.75"/>
<rect x="208.15" y="343.53" width="12.1" height="60.27" fill="none" stroke="rgba(40,40,40,0.55)" stroke-width="0.75"/>
<rect x="208.15" y="300.35" width="12.1" height="43.18" fill="none" stroke="rgba(40,40,40,0.55)" stroke-width="0.75"/>
<rect x="208.15" y="258.96" width="12.1" height="41.38" fill="none" stroke="rgba(40,40,40,0.55)" stroke-width="0.75"/>
<rect x="223.7" y="343.53" width="12.1" height="60.27" fill="none" stroke="rgba(40,40,40,0.55)" stroke-width="0.75"/>
<rect x="223.7" y="300.35" width="12.1" height="43.18" fill="none" stroke="rgba(40,40,40,0.55)" stroke-width="0.75"/>
<rect x="223.7" y="258.96" width="12.1" height="41.38" fill="none" stroke="rgba(40,40,40,0.55)" stroke-width="0.75"/>
<polyline points="43.15,275.83 58.7,275.16 74.25,272.23 89.8,268.41 105.35,263.69 120.9,260.31 136.45,257.62 152,257.62 167.55,260.76 183.1,261.44 198.65,260.76 214.2,258.96 229.75,258.96" fill="none" stroke="#9fb6ca" stroke-width="0.65"/>
<circle cx="43.15" cy="275.83" r="1.7" fill="#0d4f8b"/>
<circle cx="58.7" cy="275.16" r="1.7" fill="#0d4f8b"/>
<circle cx="74.25" cy="272.23" r="1.7" fill="#0d4f8b"/>
<circle cx="89.8" cy="268.41" r="1.7" fill="#0d4f8b"/>
<circle cx="105.35" cy="263.69" r="1.7" fill="#0d4f8b"/>
<circle cx="120.9" cy="260.31" r="1.7" fill="#0d4f8b"/>
<circle cx="136.45" cy="257.62" r="1.7" fill="#0d4f8b"/>
<circle cx="152" cy="257.62" r="1.7" fill="#0d4f8b"/>
<circle cx="167.55" cy="260.76" r="1.7" fill="#0d4f8b"/>
<circle cx="183.1" cy="261.44" r="1.7" fill="#0d4f8b"/>
<circle cx="198.65" cy="260.76" r="1.7" fill="#0d4f8b"/>
<circle cx="214.2" cy="258.96" r="1.7" fill="#0d4f8b"/>
<circle cx="229.75" cy="258.96" r="1.7" fill="#0d4f8b"/>
<path d="M27.6 235.1V403.8H245.3" fill="none" stroke="#4a4a4a" stroke-width="0.9"/>
<text x="21.61" y="405.9" font-size="6.7" textLength="3.19" lengthAdjust="spacingAndGlyphs">0</text>
<line x1="27.6" y1="381.5" x2="30.8" y2="381.5" stroke="#4a4a4a" stroke-width="1"/>
<text x="18.5" y="383.41" font-size="6.7" textLength="6.29" lengthAdjust="spacingAndGlyphs">10</text>
<line x1="27.6" y1="358.5" x2="30.8" y2="358.5" stroke="#4a4a4a" stroke-width="1"/>
<text x="18.79" y="360.92" font-size="6.7" textLength="5.99" lengthAdjust="spacingAndGlyphs">20</text>
<line x1="27.6" y1="336.5" x2="30.8" y2="336.5" stroke="#4a4a4a" stroke-width="1"/>
<text x="18.76" y="338.43" font-size="6.7" textLength="6.02" lengthAdjust="spacingAndGlyphs">30</text>
<line x1="27.6" y1="313.5" x2="30.8" y2="313.5" stroke="#4a4a4a" stroke-width="1"/>
<text x="18.94" y="315.94" font-size="6.7" textLength="5.84" lengthAdjust="spacingAndGlyphs">40</text>
<line x1="27.6" y1="291.5" x2="30.8" y2="291.5" stroke="#4a4a4a" stroke-width="1"/>
<text x="18.7" y="293.45" font-size="6.7" textLength="6.09" lengthAdjust="spacingAndGlyphs">50</text>
<line x1="27.6" y1="268.5" x2="30.8" y2="268.5" stroke="#4a4a4a" stroke-width="1"/>
<text x="18.79" y="270.96" font-size="6.7" textLength="5.99" lengthAdjust="spacingAndGlyphs">60</text>
<line x1="27.6" y1="246.5" x2="30.8" y2="246.5" stroke="#4a4a4a" stroke-width="1"/>
<text x="18.65" y="248.47" font-size="6.7" textLength="6.14" lengthAdjust="spacingAndGlyphs">70</text>
<line x1="43.15" y1="403.8" x2="43.15" y2="402.3" stroke="#4a4a4a" stroke-width="0.9"/>
<line x1="58.7" y1="403.8" x2="58.7" y2="400.8" stroke="#4a4a4a" stroke-width="0.9"/>
<line x1="74.25" y1="403.8" x2="74.25" y2="402.3" stroke="#4a4a4a" stroke-width="0.9"/>
<line x1="89.8" y1="403.8" x2="89.8" y2="400.8" stroke="#4a4a4a" stroke-width="0.9"/>
<line x1="105.35" y1="403.8" x2="105.35" y2="402.3" stroke="#4a4a4a" stroke-width="0.9"/>
<line x1="120.9" y1="403.8" x2="120.9" y2="400.8" stroke="#4a4a4a" stroke-width="0.9"/>
<line x1="136.45" y1="403.8" x2="136.45" y2="402.3" stroke="#4a4a4a" stroke-width="0.9"/>
<line x1="152" y1="403.8" x2="152" y2="400.8" stroke="#4a4a4a" stroke-width="0.9"/>
<line x1="167.55" y1="403.8" x2="167.55" y2="402.3" stroke="#4a4a4a" stroke-width="0.9"/>
<line x1="183.1" y1="403.8" x2="183.1" y2="400.8" stroke="#4a4a4a" stroke-width="0.9"/>
<line x1="198.65" y1="403.8" x2="198.65" y2="402.3" stroke="#4a4a4a" stroke-width="0.9"/>
<line x1="214.2" y1="403.8" x2="214.2" y2="400.8" stroke="#4a4a4a" stroke-width="0.9"/>
<line x1="229.75" y1="403.8" x2="229.75" y2="402.3" stroke="#4a4a4a" stroke-width="0.9"/>
<line x1="245.3" y1="403.8" x2="245.3" y2="400.8" stroke="#4a4a4a" stroke-width="0.9"/>
<text x="53.05" y="411.8" font-size="6.7" textLength="11.39" lengthAdjust="spacingAndGlyphs">2011</text>
<text x="84.15" y="411.8" font-size="6.7" textLength="11.27" lengthAdjust="spacingAndGlyphs">2013</text>
<text x="115.25" y="411.8" font-size="6.7" textLength="11.27" lengthAdjust="spacingAndGlyphs">2015</text>
<text x="146.35" y="411.8" font-size="6.7" textLength="11.21" lengthAdjust="spacingAndGlyphs">2017</text>
<text x="177.45" y="411.8" font-size="6.7" textLength="11.28" lengthAdjust="spacingAndGlyphs">2019</text>
<text x="208.55" y="411.8" font-size="6.7" textLength="11.39" lengthAdjust="spacingAndGlyphs">2021</text>
<text x="226.14" y="411.7" font-size="6.7" textLength="24.36" lengthAdjust="spacingAndGlyphs">Time/year</text>
<text transform="translate(13.6 320.9) rotate(-90)" font-size="6.45" text-anchor="middle" dominant-baseline="central">Carbon emission/<tspan dx="2.9">(</tspan>10<tspan font-size="4" dy="-2.45">4</tspan><tspan dy="2.45">tons)</tspan></text>
<line x1="40.2" y1="237.4" x2="54.5" y2="237.4" stroke="#9fb6ca" stroke-width="0.65"/>
<circle cx="47.35" cy="237.4" r="1.7" fill="#0d4f8b"/>
<text x="56.09" y="239.6" font-size="6.7" textLength="86.88" lengthAdjust="spacingAndGlyphs">Carbon emissions from plantations</text>
<rect x="40.6" y="242" width="13.5" height="6.3" fill="#d6e4dd" stroke="rgba(40,40,40,0.55)" stroke-width="0.75"/>
<text x="56.17" y="247.4" font-size="6.7" textLength="16.27" lengthAdjust="spacingAndGlyphs">Melon</text>
<rect x="40.6" y="249.7" width="13.5" height="6.3" fill="#a0dcb8" stroke="rgba(40,40,40,0.55)" stroke-width="0.75"/>
<text x="56.34" y="255.1" font-size="6.7" textLength="16.26" lengthAdjust="spacingAndGlyphs">Wheat</text>
<rect x="40.6" y="257.3" width="13.5" height="6.3" fill="#97bed7" stroke="rgba(40,40,40,0.55)" stroke-width="0.75"/>
<text x="56.09" y="262.9" font-size="6.7" textLength="12.46" lengthAdjust="spacingAndGlyphs">Corn</text>
<text x="129.49" y="432.2" font-size="11.5" textLength="2.72" lengthAdjust="spacingAndGlyphs" style="stroke-width:0.35px">(</text>
<text x="133.01" y="431.95" font-size="11" textLength="4.38" lengthAdjust="spacingAndGlyphs" font-weight="bold" style="stroke-width:0.45px">c</text>
<text x="138.29" y="432.2" font-size="11.5" textLength="2.72" lengthAdjust="spacingAndGlyphs" style="stroke-width:0.35px">)</text>
<rect x="326.33" y="377.43" width="12" height="26.27" fill="#97bed7"/>
<rect x="326.33" y="298.82" width="12" height="78.61" fill="#a0dcb8"/>
<rect x="326.33" y="290.61" width="12" height="8.21" fill="#d6e4dd"/>
<rect x="326.33" y="264.95" width="12" height="25.66" fill="#fdd8a1"/>
<rect x="326.33" y="254.89" width="12" height="10.06" fill="#f3c3c8"/>
<rect x="341.86" y="377.43" width="12" height="26.27" fill="#97bed7"/>
<rect x="341.86" y="298.61" width="12" height="78.82" fill="#a0dcb8"/>
<rect x="341.86" y="289.99" width="12" height="8.62" fill="#d6e4dd"/>
<rect x="341.86" y="264.54" width="12" height="25.45" fill="#fdd8a1"/>
<rect x="341.86" y="254.28" width="12" height="10.26" fill="#f3c3c8"/>
<rect x="357.39" y="377.43" width="12" height="26.27" fill="#97bed7"/>
<rect x="357.39" y="299.23" width="12" height="78.2" fill="#a0dcb8"/>
<rect x="357.39" y="290.61" width="12" height="8.62" fill="#d6e4dd"/>
<rect x="357.39" y="264.95" width="12" height="25.66" fill="#fdd8a1"/>
<rect x="357.39" y="255.1" width="12" height="9.85" fill="#f3c3c8"/>
<rect x="372.92" y="377.43" width="12" height="26.27" fill="#97bed7"/>
<rect x="372.92" y="299.84" width="12" height="77.58" fill="#a0dcb8"/>
<rect x="372.92" y="290.4" width="12" height="9.44" fill="#d6e4dd"/>
<rect x="372.92" y="264.95" width="12" height="25.45" fill="#fdd8a1"/>
<rect x="372.92" y="255.51" width="12" height="9.44" fill="#f3c3c8"/>
<rect x="388.45" y="377.43" width="12" height="26.27" fill="#97bed7"/>
<rect x="388.45" y="299.23" width="12" height="78.2" fill="#a0dcb8"/>
<rect x="388.45" y="289.17" width="12" height="10.06" fill="#d6e4dd"/>
<rect x="388.45" y="263.92" width="12" height="25.25" fill="#fdd8a1"/>
<rect x="388.45" y="254.07" width="12" height="9.85" fill="#f3c3c8"/>
<rect x="403.98" y="378.04" width="12" height="25.66" fill="#97bed7"/>
<rect x="403.98" y="302.31" width="12" height="75.74" fill="#a0dcb8"/>
<rect x="403.98" y="293.28" width="12" height="9.03" fill="#d6e4dd"/>
<rect x="403.98" y="268.44" width="12" height="24.84" fill="#fdd8a1"/>
<rect x="403.98" y="259.41" width="12" height="9.03" fill="#f3c3c8"/>
<rect x="419.51" y="377.02" width="12" height="26.68" fill="#97bed7"/>
<rect x="419.51" y="301.28" width="12" height="75.74" fill="#a0dcb8"/>
<rect x="419.51" y="292.45" width="12" height="8.83" fill="#d6e4dd"/>
<rect x="419.51" y="267.62" width="12" height="24.84" fill="#fdd8a1"/>
<rect x="419.51" y="258.59" width="12" height="9.03" fill="#f3c3c8"/>
<rect x="435.04" y="377.02" width="12" height="26.68" fill="#97bed7"/>
<rect x="435.04" y="302.31" width="12" height="74.71" fill="#a0dcb8"/>
<rect x="435.04" y="293.28" width="12" height="9.03" fill="#d6e4dd"/>
<rect x="435.04" y="268.44" width="12" height="24.84" fill="#fdd8a1"/>
<rect x="435.04" y="259.2" width="12" height="9.24" fill="#f3c3c8"/>
<rect x="450.57" y="376.81" width="12" height="26.89" fill="#97bed7"/>
<rect x="450.57" y="308.46" width="12" height="68.35" fill="#a0dcb8"/>
<rect x="450.57" y="299.43" width="12" height="9.03" fill="#d6e4dd"/>
<rect x="450.57" y="276.03" width="12" height="23.4" fill="#fdd8a1"/>
<rect x="450.57" y="267.21" width="12" height="8.83" fill="#f3c3c8"/>
<rect x="466.1" y="376.81" width="12" height="26.89" fill="#97bed7"/>
<rect x="466.1" y="313.39" width="12" height="63.42" fill="#a0dcb8"/>
<rect x="466.1" y="305.59" width="12" height="7.8" fill="#d6e4dd"/>
<rect x="466.1" y="282.4" width="12" height="23.19" fill="#fdd8a1"/>
<rect x="466.1" y="274.19" width="12" height="8.21" fill="#f3c3c8"/>
<rect x="481.63" y="376.81" width="12" height="26.89" fill="#97bed7"/>
<rect x="481.63" y="316.88" width="12" height="59.93" fill="#a0dcb8"/>
<rect x="481.63" y="309.49" width="12" height="7.39" fill="#d6e4dd"/>
<rect x="481.63" y="285.48" width="12" height="24.01" fill="#fdd8a1"/>
<rect x="481.63" y="277.68" width="12" height="7.8" fill="#f3c3c8"/>
<rect x="497.16" y="376.81" width="12" height="26.89" fill="#97bed7"/>
<rect x="497.16" y="318.32" width="12" height="58.5" fill="#a0dcb8"/>
<rect x="497.16" y="310.72" width="12" height="7.59" fill="#d6e4dd"/>
<rect x="497.16" y="286.5" width="12" height="24.22" fill="#fdd8a1"/>
<rect x="497.16" y="278.29" width="12" height="8.21" fill="#f3c3c8"/>
<rect x="512.69" y="376.61" width="12" height="27.09" fill="#97bed7"/>
<rect x="512.69" y="318.93" width="12" height="57.68" fill="#a0dcb8"/>
<rect x="512.69" y="311.34" width="12" height="7.59" fill="#d6e4dd"/>
<rect x="512.69" y="287.53" width="12" height="23.81" fill="#fdd8a1"/>
<rect x="512.69" y="279.52" width="12" height="8" fill="#f3c3c8"/>
<rect x="326.33" y="377.43" width="12" height="26.27" fill="none" stroke="rgba(40,40,40,0.55)" stroke-width="0.75"/>
<rect x="326.33" y="298.82" width="12" height="78.61" fill="none" stroke="rgba(40,40,40,0.55)" stroke-width="0.75"/>
<rect x="326.33" y="290.61" width="12" height="8.21" fill="none" stroke="rgba(40,40,40,0.55)" stroke-width="0.75"/>
<rect x="326.33" y="264.95" width="12" height="25.66" fill="none" stroke="rgba(40,40,40,0.55)" stroke-width="0.75"/>
<rect x="326.33" y="254.89" width="12" height="10.06" fill="none" stroke="rgba(40,40,40,0.55)" stroke-width="0.75"/>
<rect x="341.86" y="377.43" width="12" height="26.27" fill="none" stroke="rgba(40,40,40,0.55)" stroke-width="0.75"/>
<rect x="341.86" y="298.61" width="12" height="78.82" fill="none" stroke="rgba(40,40,40,0.55)" stroke-width="0.75"/>
<rect x="341.86" y="289.99" width="12" height="8.62" fill="none" stroke="rgba(40,40,40,0.55)" stroke-width="0.75"/>
<rect x="341.86" y="264.54" width="12" height="25.45" fill="none" stroke="rgba(40,40,40,0.55)" stroke-width="0.75"/>
<rect x="341.86" y="254.28" width="12" height="10.26" fill="none" stroke="rgba(40,40,40,0.55)" stroke-width="0.75"/>
<rect x="357.39" y="377.43" width="12" height="26.27" fill="none" stroke="rgba(40,40,40,0.55)" stroke-width="0.75"/>
<rect x="357.39" y="299.23" width="12" height="78.2" fill="none" stroke="rgba(40,40,40,0.55)" stroke-width="0.75"/>
<rect x="357.39" y="290.61" width="12" height="8.62" fill="none" stroke="rgba(40,40,40,0.55)" stroke-width="0.75"/>
<rect x="357.39" y="264.95" width="12" height="25.66" fill="none" stroke="rgba(40,40,40,0.55)" stroke-width="0.75"/>
<rect x="357.39" y="255.1" width="12" height="9.85" fill="none" stroke="rgba(40,40,40,0.55)" stroke-width="0.75"/>
<rect x="372.92" y="377.43" width="12" height="26.27" fill="none" stroke="rgba(40,40,40,0.55)" stroke-width="0.75"/>
<rect x="372.92" y="299.84" width="12" height="77.58" fill="none" stroke="rgba(40,40,40,0.55)" stroke-width="0.75"/>
<rect x="372.92" y="290.4" width="12" height="9.44" fill="none" stroke="rgba(40,40,40,0.55)" stroke-width="0.75"/>
<rect x="372.92" y="264.95" width="12" height="25.45" fill="none" stroke="rgba(40,40,40,0.55)" stroke-width="0.75"/>
<rect x="372.92" y="255.51" width="12" height="9.44" fill="none" stroke="rgba(40,40,40,0.55)" stroke-width="0.75"/>
<rect x="388.45" y="377.43" width="12" height="26.27" fill="none" stroke="rgba(40,40,40,0.55)" stroke-width="0.75"/>
<rect x="388.45" y="299.23" width="12" height="78.2" fill="none" stroke="rgba(40,40,40,0.55)" stroke-width="0.75"/>
<rect x="388.45" y="289.17" width="12" height="10.06" fill="none" stroke="rgba(40,40,40,0.55)" stroke-width="0.75"/>
<rect x="388.45" y="263.92" width="12" height="25.25" fill="none" stroke="rgba(40,40,40,0.55)" stroke-width="0.75"/>
<rect x="388.45" y="254.07" width="12" height="9.85" fill="none" stroke="rgba(40,40,40,0.55)" stroke-width="0.75"/>
<rect x="403.98" y="378.04" width="12" height="25.66" fill="none" stroke="rgba(40,40,40,0.55)" stroke-width="0.75"/>
<rect x="403.98" y="302.31" width="12" height="75.74" fill="none" stroke="rgba(40,40,40,0.55)" stroke-width="0.75"/>
<rect x="403.98" y="293.28" width="12" height="9.03" fill="none" stroke="rgba(40,40,40,0.55)" stroke-width="0.75"/>
<rect x="403.98" y="268.44" width="12" height="24.84" fill="none" stroke="rgba(40,40,40,0.55)" stroke-width="0.75"/>
<rect x="403.98" y="259.41" width="12" height="9.03" fill="none" stroke="rgba(40,40,40,0.55)" stroke-width="0.75"/>
<rect x="419.51" y="377.02" width="12" height="26.68" fill="none" stroke="rgba(40,40,40,0.55)" stroke-width="0.75"/>
<rect x="419.51" y="301.28" width="12" height="75.74" fill="none" stroke="rgba(40,40,40,0.55)" stroke-width="0.75"/>
<rect x="419.51" y="292.45" width="12" height="8.83" fill="none" stroke="rgba(40,40,40,0.55)" stroke-width="0.75"/>
<rect x="419.51" y="267.62" width="12" height="24.84" fill="none" stroke="rgba(40,40,40,0.55)" stroke-width="0.75"/>
<rect x="419.51" y="258.59" width="12" height="9.03" fill="none" stroke="rgba(40,40,40,0.55)" stroke-width="0.75"/>
<rect x="435.04" y="377.02" width="12" height="26.68" fill="none" stroke="rgba(40,40,40,0.55)" stroke-width="0.75"/>
<rect x="435.04" y="302.31" width="12" height="74.71" fill="none" stroke="rgba(40,40,40,0.55)" stroke-width="0.75"/>
<rect x="435.04" y="293.28" width="12" height="9.03" fill="none" stroke="rgba(40,40,40,0.55)" stroke-width="0.75"/>
<rect x="435.04" y="268.44" width="12" height="24.84" fill="none" stroke="rgba(40,40,40,0.55)" stroke-width="0.75"/>
<rect x="435.04" y="259.2" width="12" height="9.24" fill="none" stroke="rgba(40,40,40,0.55)" stroke-width="0.75"/>
<rect x="450.57" y="376.81" width="12" height="26.89" fill="none" stroke="rgba(40,40,40,0.55)" stroke-width="0.75"/>
<rect x="450.57" y="308.46" width="12" height="68.35" fill="none" stroke="rgba(40,40,40,0.55)" stroke-width="0.75"/>
<rect x="450.57" y="299.43" width="12" height="9.03" fill="none" stroke="rgba(40,40,40,0.55)" stroke-width="0.75"/>
<rect x="450.57" y="276.03" width="12" height="23.4" fill="none" stroke="rgba(40,40,40,0.55)" stroke-width="0.75"/>
<rect x="450.57" y="267.21" width="12" height="8.83" fill="none" stroke="rgba(40,40,40,0.55)" stroke-width="0.75"/>
<rect x="466.1" y="376.81" width="12" height="26.89" fill="none" stroke="rgba(40,40,40,0.55)" stroke-width="0.75"/>
<rect x="466.1" y="313.39" width="12" height="63.42" fill="none" stroke="rgba(40,40,40,0.55)" stroke-width="0.75"/>
<rect x="466.1" y="305.59" width="12" height="7.8" fill="none" stroke="rgba(40,40,40,0.55)" stroke-width="0.75"/>
<rect x="466.1" y="282.4" width="12" height="23.19" fill="none" stroke="rgba(40,40,40,0.55)" stroke-width="0.75"/>
<rect x="466.1" y="274.19" width="12" height="8.21" fill="none" stroke="rgba(40,40,40,0.55)" stroke-width="0.75"/>
<rect x="481.63" y="376.81" width="12" height="26.89" fill="none" stroke="rgba(40,40,40,0.55)" stroke-width="0.75"/>
<rect x="481.63" y="316.88" width="12" height="59.93" fill="none" stroke="rgba(40,40,40,0.55)" stroke-width="0.75"/>
<rect x="481.63" y="309.49" width="12" height="7.39" fill="none" stroke="rgba(40,40,40,0.55)" stroke-width="0.75"/>
<rect x="481.63" y="285.48" width="12" height="24.01" fill="none" stroke="rgba(40,40,40,0.55)" stroke-width="0.75"/>
<rect x="481.63" y="277.68" width="12" height="7.8" fill="none" stroke="rgba(40,40,40,0.55)" stroke-width="0.75"/>
<rect x="497.16" y="376.81" width="12" height="26.89" fill="none" stroke="rgba(40,40,40,0.55)" stroke-width="0.75"/>
<rect x="497.16" y="318.32" width="12" height="58.5" fill="none" stroke="rgba(40,40,40,0.55)" stroke-width="0.75"/>
<rect x="497.16" y="310.72" width="12" height="7.59" fill="none" stroke="rgba(40,40,40,0.55)" stroke-width="0.75"/>
<rect x="497.16" y="286.5" width="12" height="24.22" fill="none" stroke="rgba(40,40,40,0.55)" stroke-width="0.75"/>
<rect x="497.16" y="278.29" width="12" height="8.21" fill="none" stroke="rgba(40,40,40,0.55)" stroke-width="0.75"/>
<rect x="512.69" y="376.61" width="12" height="27.09" fill="none" stroke="rgba(40,40,40,0.55)" stroke-width="0.75"/>
<rect x="512.69" y="318.93" width="12" height="57.68" fill="none" stroke="rgba(40,40,40,0.55)" stroke-width="0.75"/>
<rect x="512.69" y="311.34" width="12" height="7.59" fill="none" stroke="rgba(40,40,40,0.55)" stroke-width="0.75"/>
<rect x="512.69" y="287.53" width="12" height="23.81" fill="none" stroke="rgba(40,40,40,0.55)" stroke-width="0.75"/>
<rect x="512.69" y="279.52" width="12" height="8" fill="none" stroke="rgba(40,40,40,0.55)" stroke-width="0.75"/>
<polyline points="332.33,254.89 347.86,254.28 363.39,255.1 378.92,255.51 394.45,254.07 409.98,259.41 425.51,258.59 441.04,259.2 456.57,267.21 472.1,274.19 487.63,277.68 503.16,278.29 518.69,279.52" fill="none" stroke="#9fb6ca" stroke-width="0.65"/>
<circle cx="332.33" cy="254.89" r="1.7" fill="#0d4f8b"/>
<circle cx="347.86" cy="254.28" r="1.7" fill="#0d4f8b"/>
<circle cx="363.39" cy="255.1" r="1.7" fill="#0d4f8b"/>
<circle cx="378.92" cy="255.51" r="1.7" fill="#0d4f8b"/>
<circle cx="394.45" cy="254.07" r="1.7" fill="#0d4f8b"/>
<circle cx="409.98" cy="259.41" r="1.7" fill="#0d4f8b"/>
<circle cx="425.51" cy="258.59" r="1.7" fill="#0d4f8b"/>
<circle cx="441.04" cy="259.2" r="1.7" fill="#0d4f8b"/>
<circle cx="456.57" cy="267.21" r="1.7" fill="#0d4f8b"/>
<circle cx="472.1" cy="274.19" r="1.7" fill="#0d4f8b"/>
<circle cx="487.63" cy="277.68" r="1.7" fill="#0d4f8b"/>
<circle cx="503.16" cy="278.29" r="1.7" fill="#0d4f8b"/>
<circle cx="518.69" cy="279.52" r="1.7" fill="#0d4f8b"/>
<path d="M316.8 239.5V403.7H534.22" fill="none" stroke="#4a4a4a" stroke-width="0.9"/>
<text x="310.31" y="405.8" font-size="6.7" textLength="3.19" lengthAdjust="spacingAndGlyphs">0</text>
<line x1="316.8" y1="383.5" x2="320" y2="383.5" stroke="#4a4a4a" stroke-width="1"/>
<text x="306.65" y="385.28" font-size="6.7" textLength="6.86" lengthAdjust="spacingAndGlyphs">10</text>
<line x1="316.8" y1="362.5" x2="320" y2="362.5" stroke="#4a4a4a" stroke-width="1"/>
<text x="306.96" y="364.75" font-size="6.7" textLength="6.54" lengthAdjust="spacingAndGlyphs">20</text>
<line x1="316.8" y1="342.5" x2="320" y2="342.5" stroke="#4a4a4a" stroke-width="1"/>
<text x="306.94" y="344.23" font-size="6.7" textLength="6.56" lengthAdjust="spacingAndGlyphs">30</text>
<line x1="316.8" y1="321.5" x2="320" y2="321.5" stroke="#4a4a4a" stroke-width="1"/>
<text x="307.13" y="323.7" font-size="6.7" textLength="6.37" lengthAdjust="spacingAndGlyphs">40</text>
<line x1="316.8" y1="301.5" x2="320" y2="301.5" stroke="#4a4a4a" stroke-width="1"/>
<text x="306.86" y="303.18" font-size="6.7" textLength="6.64" lengthAdjust="spacingAndGlyphs">50</text>
<line x1="316.8" y1="280.5" x2="320" y2="280.5" stroke="#4a4a4a" stroke-width="1"/>
<text x="306.97" y="282.65" font-size="6.7" textLength="6.53" lengthAdjust="spacingAndGlyphs">60</text>
<line x1="316.8" y1="260.5" x2="320" y2="260.5" stroke="#4a4a4a" stroke-width="1"/>
<text x="306.81" y="262.12" font-size="6.7" textLength="6.7" lengthAdjust="spacingAndGlyphs">70</text>
<line x1="316.8" y1="239.5" x2="320" y2="239.5" stroke="#4a4a4a" stroke-width="1"/>
<text x="307" y="241.6" font-size="6.7" textLength="6.49" lengthAdjust="spacingAndGlyphs">80</text>
<line x1="332.33" y1="403.7" x2="332.33" y2="402.2" stroke="#4a4a4a" stroke-width="0.9"/>
<line x1="347.86" y1="403.7" x2="347.86" y2="400.7" stroke="#4a4a4a" stroke-width="0.9"/>
<line x1="363.39" y1="403.7" x2="363.39" y2="402.2" stroke="#4a4a4a" stroke-width="0.9"/>
<line x1="378.92" y1="403.7" x2="378.92" y2="400.7" stroke="#4a4a4a" stroke-width="0.9"/>
<line x1="394.45" y1="403.7" x2="394.45" y2="402.2" stroke="#4a4a4a" stroke-width="0.9"/>
<line x1="409.98" y1="403.7" x2="409.98" y2="400.7" stroke="#4a4a4a" stroke-width="0.9"/>
<line x1="425.51" y1="403.7" x2="425.51" y2="402.2" stroke="#4a4a4a" stroke-width="0.9"/>
<line x1="441.04" y1="403.7" x2="441.04" y2="400.7" stroke="#4a4a4a" stroke-width="0.9"/>
<line x1="456.57" y1="403.7" x2="456.57" y2="402.2" stroke="#4a4a4a" stroke-width="0.9"/>
<line x1="472.1" y1="403.7" x2="472.1" y2="400.7" stroke="#4a4a4a" stroke-width="0.9"/>
<line x1="487.63" y1="403.7" x2="487.63" y2="402.2" stroke="#4a4a4a" stroke-width="0.9"/>
<line x1="503.16" y1="403.7" x2="503.16" y2="400.7" stroke="#4a4a4a" stroke-width="0.9"/>
<line x1="518.69" y1="403.7" x2="518.69" y2="402.2" stroke="#4a4a4a" stroke-width="0.9"/>
<line x1="534.22" y1="403.7" x2="534.22" y2="400.7" stroke="#4a4a4a" stroke-width="0.9"/>
<text x="342.16" y="411.7" font-size="6.7" textLength="11.5" lengthAdjust="spacingAndGlyphs">2011</text>
<text x="373.22" y="411.7" font-size="6.7" textLength="11.37" lengthAdjust="spacingAndGlyphs">2013</text>
<text x="404.28" y="411.7" font-size="6.7" textLength="11.37" lengthAdjust="spacingAndGlyphs">2015</text>
<text x="435.34" y="411.7" font-size="6.7" textLength="11.31" lengthAdjust="spacingAndGlyphs">2017</text>
<text x="466.4" y="411.7" font-size="6.7" textLength="11.38" lengthAdjust="spacingAndGlyphs">2019</text>
<text x="497.46" y="411.7" font-size="6.7" textLength="11.5" lengthAdjust="spacingAndGlyphs">2021</text>
<text x="519.84" y="411.6" font-size="6.7" textLength="24.46" lengthAdjust="spacingAndGlyphs">Time/year</text>
<text transform="translate(302.2 311.8) rotate(-90)" font-size="6.45" text-anchor="middle" dominant-baseline="central">Carbon emission/<tspan dx="2.9">(</tspan>10<tspan font-size="4" dy="-2.45">4</tspan><tspan dy="2.45">tons)</tspan></text>
<line x1="329.3" y1="223.3" x2="343.3" y2="223.3" stroke="#9fb6ca" stroke-width="0.65"/>
<circle cx="336.3" cy="223.3" r="1.7" fill="#0d4f8b"/>
<text x="345" y="225.4" font-size="6.7" textLength="97.87" lengthAdjust="spacingAndGlyphs">Carbon emissions from agricultural use</text>
<rect x="329.7" y="228" width="13.2" height="6" fill="#f3c3c8" stroke="rgba(40,40,40,0.55)" stroke-width="0.75"/>
<text x="345.19" y="232.8" font-size="6.7" textLength="46.27" lengthAdjust="spacingAndGlyphs">Agricultural diesel</text>
<rect x="329.7" y="235.7" width="13.2" height="6" fill="#d6e4dd" stroke="rgba(40,40,40,0.55)" stroke-width="0.75"/>
<text x="345.19" y="240.4" font-size="6.7" textLength="35.09" lengthAdjust="spacingAndGlyphs">Agrochemical</text>
<rect x="329.7" y="243.3" width="13.2" height="6" fill="#97bed7" stroke="rgba(40,40,40,0.55)" stroke-width="0.75"/>
<text x="345.03" y="248.2" font-size="6.7" textLength="21.33" lengthAdjust="spacingAndGlyphs">Irrigated</text>
<rect x="443.7" y="227.8" width="13.2" height="6" fill="#fdd8a1" stroke="rgba(40,40,40,0.55)" stroke-width="0.75"/>
<text x="459.19" y="232.8" font-size="6.7" textLength="41.66" lengthAdjust="spacingAndGlyphs">Agricultural film</text>
<rect x="443.7" y="235.7" width="13.2" height="6" fill="#a0dcb8" stroke="rgba(40,40,40,0.55)" stroke-width="0.75"/>
<text x="459.08" y="240.8" font-size="6.7" textLength="24.39" lengthAdjust="spacingAndGlyphs">Fertilizers</text>
<text x="417.29" y="432.2" font-size="11.5" textLength="2.72" lengthAdjust="spacingAndGlyphs" style="stroke-width:0.35px">(</text>
<text x="421.05" y="431.95" font-size="11" textLength="5.51" lengthAdjust="spacingAndGlyphs" font-weight="bold" style="stroke-width:0.45px">d</text>
<text x="428.06" y="432.2" font-size="11.5" textLength="2.98" lengthAdjust="spacingAndGlyphs" style="stroke-width:0.35px">)</text>
</g>
</svg>
</body></html>
